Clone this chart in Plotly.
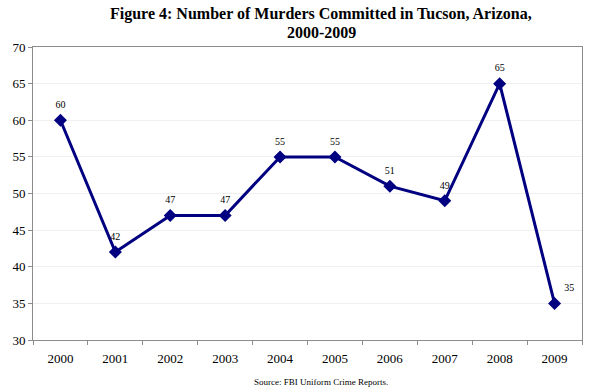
import plotly.graph_objects as go

years = ["2000", "2001", "2002", "2003", "2004", "2005", "2006", "2007", "2008", "2009"]
murders = [60, 42, 47, 47, 55, 55, 51, 49, 65, 35]
y_ticks = [30, 35, 40, 45, 50, 55, 60, 65, 70]
label_pos = ["top center"] * 9 + ["top right"]

serif = "Liberation Serif, Times New Roman, serif"

fig = go.Figure()
fig.add_trace(go.Scatter(
    x=years, y=murders, mode="lines+markers",
    line=dict(color="#000080", width=3),
    marker=dict(symbol="diamond", size=10, color="#000080"),
    cliponaxis=False, showlegend=False, hoverinfo="x+y",
))
fig.add_trace(go.Scatter(
    x=years, y=murders, mode="markers+text",
    marker=dict(size=14, color="rgba(0,0,0,0)"),
    text=[str(v) for v in murders], textposition=label_pos,
    textfont=dict(family=serif, size=10, color="#000000"),
    cliponaxis=False, showlegend=False, hoverinfo="skip",
))

fig.update_layout(
    width=590, height=390,
    margin=dict(l=33, r=8, t=47, b=50),
    paper_bgcolor="white", plot_bgcolor="white",
    xaxis=dict(
        type="category", tickson="boundaries",
        showline=True, linecolor="#8c8c8c", linewidth=1, mirror=True,
        ticks="outside", ticklen=4, tickcolor="#8c8c8c",
        ticklabelstandoff=6,
        showgrid=False,
        tickfont=dict(family=serif, size=13, color="#000000"),
        range=[-0.5, 9.5],
    ),
    yaxis=dict(
        range=[30, 70], tickvals=y_ticks,
        showline=True, linecolor="#8c8c8c", linewidth=1, mirror=True,
        ticks="outside", ticklen=4, tickcolor="#8c8c8c",
        showgrid=True, gridcolor="#f0f0f0", gridwidth=1,
        zeroline=False,
        tickfont=dict(family=serif, size=13, color="#000000"),
    ),
    annotations=[
        dict(
            text="<b>Figure 4: Number of Murders Committed in Tucson, Arizona,</b>",
            xref="paper", yref="paper", x=0.525, y=1, yshift=33,
            xanchor="center", yanchor="middle", showarrow=False,
            font=dict(family=serif, size=16, color="#000000"),
        ),
        dict(
            text="<b>2000-2009</b>",
            xref="paper", yref="paper", x=0.525, y=1, yshift=15,
            xanchor="center", yanchor="middle", showarrow=False,
            font=dict(family=serif, size=16, color="#000000"),
        ),
        dict(
            text="Source: FBI Uniform Crime Reports.",
            xref="paper", yref="paper", x=0.525, y=-0.145,
            xanchor="center", yanchor="middle", showarrow=False,
            font=dict(family=serif, size=9, color="#000000"),
        ),
    ],
)

fig.write_html("out.html", config={"displayModeBar": False},
               post_script="document.body.style.margin='0px';")
